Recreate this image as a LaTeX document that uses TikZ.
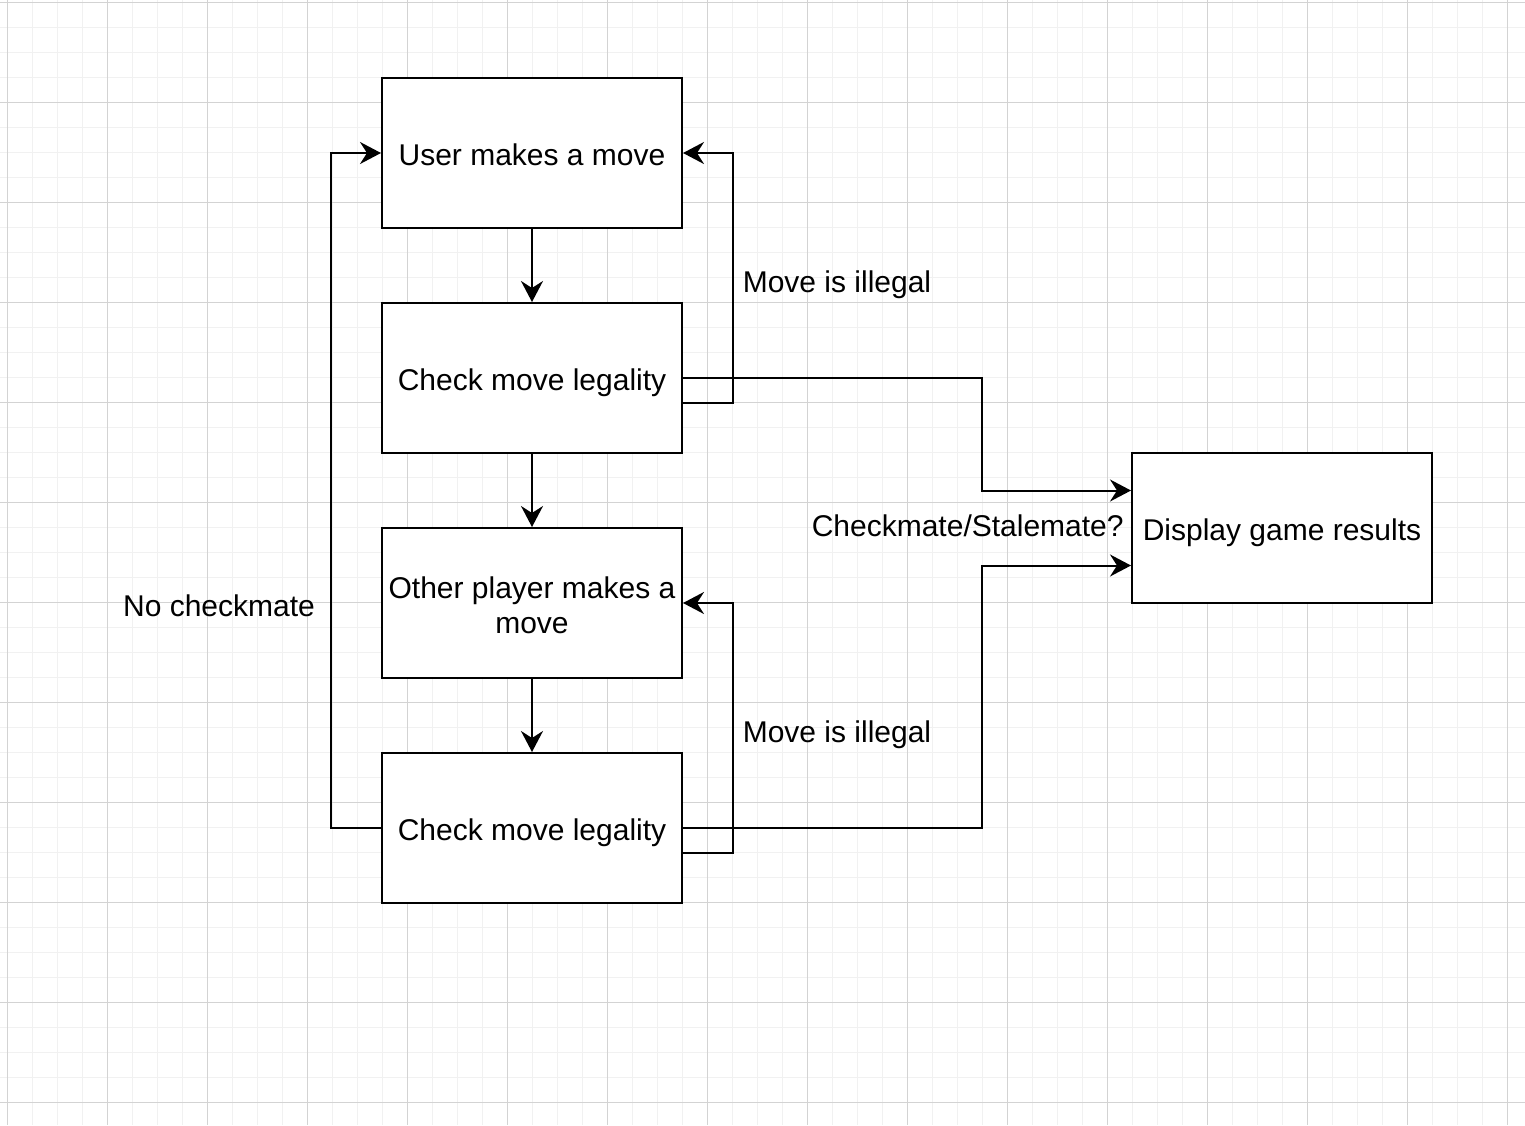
\documentclass[tikz,border=0pt]{standalone}
\usepackage{fontspec}
\setmainfont{Liberation Sans}
\usetikzlibrary{arrows.meta,calc}
\definecolor{minorgrid}{HTML}{F1F1F1}
\definecolor{majorgrid}{HTML}{D3D3D3}
\tikzset{
  txt/.style={font=\fontsize{15}{17.5}\selectfont,text height=12pt,text depth=0pt},
  box/.style={draw=black,line width=1pt,fill=white,minimum width=150pt,minimum height=75pt,inner sep=0pt,align=center,txt},
  arr/.style={draw=black,line width=1pt,-{Stealth[length=10.5pt,width=11pt,inset=3.5pt]}},
  lbl/.style={txt,inner sep=0pt}
}
\begin{document}
\begin{tikzpicture}[x=0.5pt,y=-0.5pt]
\useasboundingbox (0,0) rectangle (1525,1125);
\fill[white] (0,0) rectangle (1525,1125);
% grid
\foreach \x in {7,32,...,1525} \draw[minorgrid,line width=0.5pt] (\x,0) -- (\x,1125);
\foreach \y in {2,27,...,1125} \draw[minorgrid,line width=0.5pt] (0,\y) -- (1525,\y);
\foreach \x in {7,107,...,1525} \draw[majorgrid,line width=0.5pt] (\x,0) -- (\x,1125);
\foreach \y in {2,102,...,1125} \draw[majorgrid,line width=0.5pt] (0,\y) -- (1525,\y);
% nodes
\node[box] (u) at (532,153) {User makes a move};
\node[box] (c1) at (532,378) {Check move legality};
\node[box,text height=30pt] (o) at (532,603) {Other player makes a\\move};
\node[box] (c2) at (532,828) {Check move legality};
\node[box] (d) at (1282,528) {Display game results};
\coordinate (j) at (982,0);
% connectors
\draw[arr] (u.south) -- (c1.north);
\draw[arr] (c1.south) -- (o.north);
\draw[arr] (o.south) -- (c2.north);
\draw[arr] ([yshift=-12.5pt]c1.east) -- ++(25pt,0) |- (u.east);
\draw[arr] ([yshift=-12.5pt]c2.east) -- ++(25pt,0) |- (o.east);
\draw[arr] (c1.east) -- (c1.east -| j) |- ([yshift=18.75pt]d.west);
\draw[arr] (c2.east) -- (c2.east -| j) |- ([yshift=-18.75pt]d.west);
\draw[arr] (c2.west) -- ++(-25pt,0) |- (u.west);
% labels
\node[lbl] (l1) at (837,280) {Move is illegal};
\node[lbl] (l2) at (837,730) {Move is illegal};
\node[lbl,anchor=east] (l3) at (1124,524) {Checkmate/Stalemate?};
\node[lbl] (l4) at (219,604) {No checkmate};
\end{tikzpicture}
\end{document}
